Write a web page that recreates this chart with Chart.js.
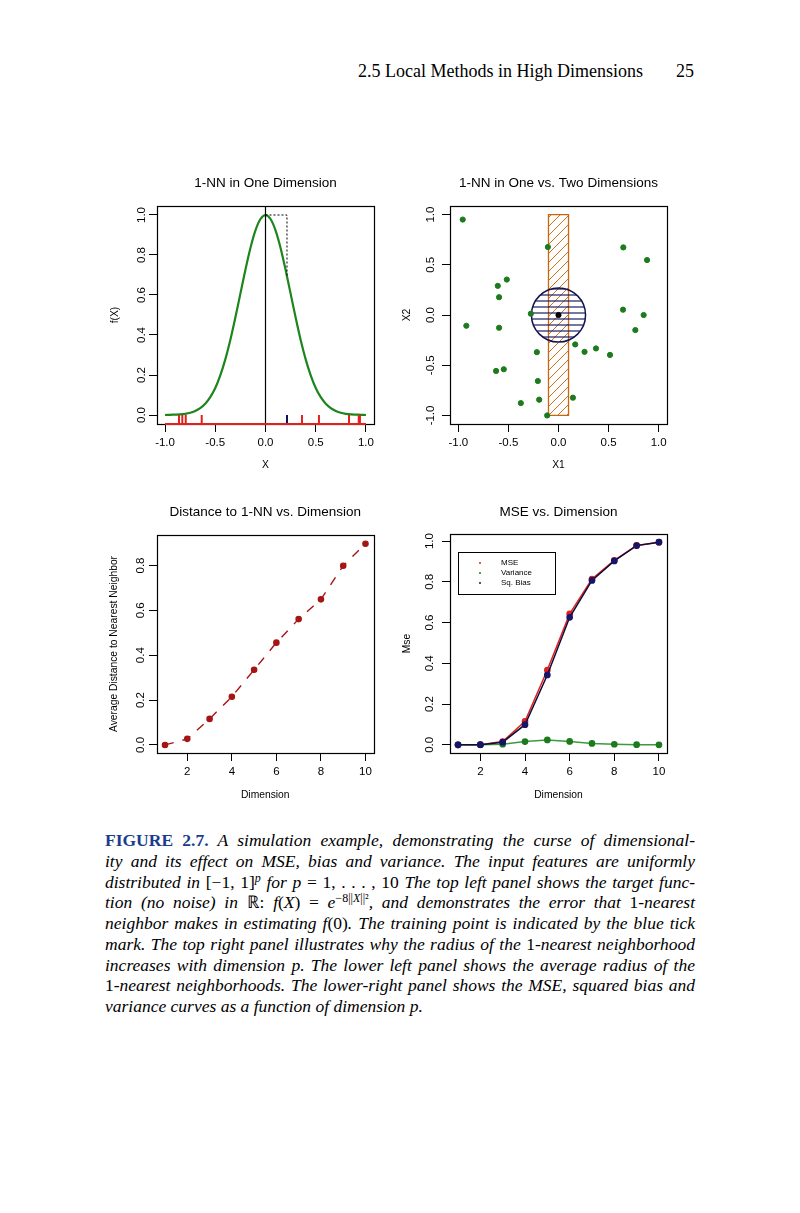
<!DOCTYPE html>
<html>
<head>
<meta charset="utf-8">
<script src="https://cdn.jsdelivr.net/npm/chart.js@4.4.0/dist/chart.umd.min.js"></script>
<style>
  body { margin: 0; background: #fff; }
  #page { position: relative; width: 800px; height: 1213px; overflow: hidden; }
  canvas { position: absolute; }
  .hdr { position: absolute; top: 60px; font-family: "Liberation Serif", serif; font-size: 18px; line-height: 22px; white-space: nowrap; }
  #caption { position: absolute; left: 105px; top: 830px; width: 590px; font-family: "Liberation Serif", serif; font-style: italic; font-size: 17.5px; line-height: 20.75px; }
  #caption div { text-align: justify; text-align-last: justify; }
  #caption div.last { text-align-last: left; }
  .fig { font-style: normal; font-weight: bold; color: #1b3c8c; }
  .rm { font-style: normal; }
  sup { font-size: 12px; line-height: 0; vertical-align: 6px; }
</style>
</head>
<body>
<div id="page">
  <div class="hdr" style="right:157px">2.5 Local Methods in High Dimensions</div>
  <div class="hdr" style="right:106px">25</div>

  <canvas id="oneDim" width="290" height="320" style="left:100px;top:160px"></canvas>
  <canvas id="twoDim" width="290" height="320" style="left:390px;top:160px"></canvas>
  <canvas id="distDim" width="290" height="320" style="left:100px;top:490px"></canvas>
  <canvas id="mseDim" width="290" height="320" style="left:390px;top:490px"></canvas>

  <div id="caption">
    <div><span class="fig">FIGURE 2.7.</span> A simulation example, demonstrating the curse of dimensional-</div>
    <div>ity and its effect on MSE, bias and variance. The input features are uniformly</div>
    <div>distributed in <span class="rm">[−1, 1]</span><sup>p</sup> for p <span class="rm">= 1, . . . , 10</span> The top left panel shows the target func-</div>
    <div>tion (no noise) in <span class="rm">ℝ:</span> f<span class="rm">(</span>X<span class="rm">) =</span> e<sup><span class="rm">−8||</span>X<span class="rm">||²</span></sup>, and demonstrates the error that <span class="rm">1</span>-nearest</div>
    <div>neighbor makes in estimating f<span class="rm">(0)</span>. The training point is indicated by the blue tick</div>
    <div>mark. The top right panel illustrates why the radius of the <span class="rm">1</span>-nearest neighborhood</div>
    <div>increases with dimension p. The lower left panel shows the average radius of the</div>
    <div><span class="rm">1</span>-nearest neighborhoods. The lower-right panel shows the MSE, squared bias and</div>
    <div class="last">variance curves as a function of dimension p.</div>
  </div>
</div>

<script>
// ---------------------------------------------------------------
// data
// ---------------------------------------------------------------

// top left: target function f(X) = exp(-8 X^2)
const curveX = [-1.0, -0.95, -0.9, -0.85, -0.8, -0.75, -0.7, -0.65, -0.6, -0.55, -0.5,
                -0.45, -0.4, -0.35, -0.3, -0.25, -0.2, -0.15, -0.1, -0.05, 0.0,
                0.05, 0.1, 0.15, 0.2, 0.25, 0.3, 0.35, 0.4, 0.45, 0.5,
                0.55, 0.6, 0.65, 0.7, 0.75, 0.8, 0.85, 0.9, 0.95, 1.0];
const curveY = [0.000, 0.001, 0.002, 0.003, 0.006, 0.011, 0.020, 0.034, 0.056, 0.089, 0.135,
                0.198, 0.278, 0.375, 0.487, 0.607, 0.726, 0.835, 0.923, 0.980, 1.000,
                0.980, 0.923, 0.835, 0.726, 0.607, 0.487, 0.375, 0.278, 0.198, 0.135,
                0.089, 0.056, 0.034, 0.020, 0.011, 0.006, 0.003, 0.002, 0.001, 0.000];
const rugX = [-0.861, -0.828, -0.794, -0.635, 0.363, 0.532, 0.831, 0.928, 0.94];
const nnX = 0.214;      // nearest training point (blue tick)
const nnY = 0.693;      // f at that point
const oneDimX = [-1.08, 1.08];
const oneDimY = [-0.045, 1.045];
const oneDimXTicks = [-1, -0.5, 0, 0.5, 1];
const oneDimYTicks = [0, 0.2, 0.4, 0.6, 0.8, 1];

// top right: 1-NN in one vs two dimensions
const ptsX1 = [-0.956, -0.106, 0.647, 0.884, -0.516, -0.606, -0.593, -0.92, -0.593, -0.276,
               0.644, 0.85, 0.767, 0.167, 0.26, 0.374, 0.514, -0.216, -0.623, -0.546,
               -0.206, -0.376, -0.193, 0.144, -0.113];
const ptsX2 = [0.95, 0.677, 0.673, 0.547, 0.353, 0.29, 0.177, -0.107, -0.127, 0.013,
               0.053, 0.0, -0.15, -0.293, -0.367, -0.333, -0.397, -0.37, -0.557, -0.54,
               -0.657, -0.877, -0.843, -0.823, -1.0];
const targetX1 = [0];
const targetX2 = [0];
const nnRadius = 0.27;
const rectX = [-0.1, 0.1];
const rectY = [-1, 1];
const twoDimX = [-1.083, 1.083];
const twoDimY = [-1.085, 1.085];
const twoDimTicks = [-1, -0.5, 0, 0.5, 1];

// bottom: by dimension
const dims = [1, 2, 3, 4, 5, 6, 7, 8, 9, 10];
const avgDist = [0.0, 0.027, 0.116, 0.215, 0.335, 0.456, 0.561, 0.649, 0.799, 0.897];
const mse = [0.0, 0.001, 0.016, 0.115, 0.367, 0.643, 0.814, 0.906, 0.979, 0.995];
const variance = [0.0, 0.0, 0.003, 0.016, 0.024, 0.017, 0.007, 0.003, 0.001, 0.0];
const sqBias = [0.0, 0.001, 0.013, 0.099, 0.343, 0.626, 0.807, 0.903, 0.978, 0.995];
const dimRange = [0.64, 10.36];
const dimTicks = [2, 4, 6, 8, 10];
const distRange = [-0.036, 0.936];
const distTicks = [0, 0.2, 0.4, 0.6, 0.8];
const mseRange = [-0.04, 1.035];
const mseTicks = [0, 0.2, 0.4, 0.6, 0.8, 1];

// ---------------------------------------------------------------
// helpers
// ---------------------------------------------------------------
const family = '"Liberation Sans", Arial, sans-serif';
const black = '#000';

const pts = (xs, ys) => xs.map((x, i) => ({x, y: ys[i]}));
const fmt1 = v => v.toFixed(1);
const fmt0 = v => String(v);

// hatch tiles, turned into patterns on the chart's own context
function tile(w, h, color, lw, draw) {
  const c = document.createElement('canvas');
  c.width = w; c.height = h;
  const g = c.getContext('2d');
  g.strokeStyle = color; g.lineWidth = lw;
  g.beginPath(); draw(g, w, h); g.stroke();
  return c;
}
const diagTile = tile(9, 9, '#d2701c', 1, (g, w, h) => {
  g.moveTo(0, h); g.lineTo(w, 0);
  g.moveTo(-1, 1); g.lineTo(1, -1);
  g.moveTo(w - 1, h + 1); g.lineTo(w + 1, h - 1);
});
const lineTile = tile(4, 6, '#1c1c66', 1.2, (g, w) => { g.moveTo(0, 3); g.lineTo(w, 3); });
const pattern = t => ctx => ctx.chart.ctx.createPattern(t, 'repeat');

// R style frame round the plot region
const boxPlugin = {
  id: 'box',
  beforeDatasetsDraw(chart) {
    const {ctx, chartArea: a} = chart;
    ctx.save();
    ctx.strokeStyle = black;
    ctx.lineWidth = 1.2;
    ctx.strokeRect(Math.round(a.left) + 0.5, Math.round(a.top) + 0.5,
                   Math.round(a.right - a.left), Math.round(a.bottom - a.top));
    ctx.restore();
  }
};

function xAxis(range, ticks, fmt, title, height) {
  return {
    type: 'linear', min: range[0], max: range[1],
    afterBuildTicks: s => { s.ticks = ticks.map(v => ({value: v})); },
    afterFit: s => { s.height = height; },
    grid: {drawOnChartArea: false, tickLength: 8, color: black, lineWidth: 1},
    border: {display: false},
    ticks: {color: black, font: {family, size: 11.5}, padding: 3.7, maxRotation: 0, autoSkip: false, callback: fmt},
    title: {display: true, text: title, color: black, font: {family, size: 10.3, lineHeight: 1.2}, padding: {top: 0, bottom: 9}}
  };
}

function yAxis(range, ticks, fmt, title, width, pad, titlePad) {
  return {
    type: 'linear', min: range[0], max: range[1],
    afterBuildTicks: s => { s.ticks = ticks.map(v => ({value: v})); },
    afterFit: s => { s.width = width; },
    grid: {drawOnChartArea: false, tickLength: 8, color: black, lineWidth: 1},
    border: {display: false},
    ticks: {color: black, font: {family, size: 11.5}, padding: pad, minRotation: 90, maxRotation: 90,
            crossAlign: 'center', autoSkip: false, callback: fmt},
    title: {display: true, text: title, color: black, font: {family, size: 10.3, lineHeight: 1.2}, padding: {top: titlePad, bottom: 0}}
  };
}

function makePanel(id, cfg) {
  return new Chart(document.getElementById(id), {
    type: 'scatter',
    data: {datasets: cfg.datasets},
    options: {
      responsive: false,
      animation: false,
      events: [],
      layout: {padding: {left: 0, top: 0, right: cfg.right, bottom: 0}},
      plugins: {
        legend: {display: false},
        tooltip: {enabled: false},
        title: {
          display: true, text: cfg.title, color: black, fullSize: false,
          font: {family, size: 13.5, weight: 'normal', lineHeight: 1.2},
          padding: {top: cfg.titleAt - 8.1, bottom: cfg.top - cfg.titleAt - 8.1}
        }
      },
      scales: {x: cfg.x, y: cfg.y}
    },
    plugins: [boxPlugin].concat(cfg.plugins || [])
  });
}

// ---------------------------------------------------------------
// 1-NN in One Dimension
// ---------------------------------------------------------------
makePanel('oneDim', {
  title: '1-NN in One Dimension', titleAt: 23, top: 46, right: 16,
  x: xAxis(oneDimX, oneDimXTicks, fmt1, 'X', 56),
  y: yAxis(oneDimY, oneDimYTicks, fmt1, 'f(X)', 57, -0.8, 9),
  datasets: [
    { // rug of training points
      data: rugX.map(x => ({x, y: oneDimY[0] / 2})),
      pointStyle: 'line', pointRotation: 90,
      pointRadius: ctx => {
        const s = ctx.chart.scales.y;
        return (s.getPixelForValue(oneDimY[0]) - s.getPixelForValue(0)) / 2;
      },
      pointBorderColor: '#e3201c', pointBorderWidth: 2, order: 1
    },
    { // nearest neighbour tick
      data: [{x: nnX, y: oneDimY[0] / 2}],
      pointStyle: 'line', pointRotation: 90,
      pointRadius: ctx => {
        const s = ctx.chart.scales.y;
        return (s.getPixelForValue(oneDimY[0]) - s.getPixelForValue(0)) / 2;
      },
      pointBorderColor: '#101060', pointBorderWidth: 2, order: 1
    },
    { // red base of the rug
      data: [{x: curveX[0], y: oneDimY[0]}, {x: curveX[curveX.length - 1], y: oneDimY[0]}],
      showLine: true, borderColor: '#e3201c', borderWidth: 2, pointRadius: 0, clip: false, order: 0
    },
    { // f(X)
      data: pts(curveX, curveY),
      showLine: true, borderColor: '#1c851c', borderWidth: 2.2, pointRadius: 0, tension: 0.3, order: 3
    },
    { // x = 0
      data: [{x: 0, y: oneDimY[0]}, {x: 0, y: oneDimY[1]}],
      showLine: true, borderColor: black, borderWidth: 1.2, pointRadius: 0, order: 2
    },
    { // error of the 1-NN estimate
      data: [{x: 0, y: 1}, {x: nnX, y: 1}, {x: nnX, y: nnY}],
      showLine: true, borderColor: black, borderWidth: 1, borderDash: [2, 2], pointRadius: 0, order: 2
    }
  ]
});

// ---------------------------------------------------------------
// 1-NN in One vs. Two Dimensions
// ---------------------------------------------------------------
makePanel('twoDim', {
  title: '1-NN in One vs. Two Dimensions', titleAt: 23, top: 46, right: 13,
  x: xAxis(twoDimX, twoDimTicks, fmt1, 'X1', 56),
  y: yAxis(twoDimY, twoDimTicks, fmt1, 'X2', 60, 1.2, 11),
  datasets: [
    { // target point
      data: pts(targetX1, targetX2),
      pointRadius: 2.6, pointBackgroundColor: black, pointBorderColor: black, order: 0
    },
    { // training sample
      data: pts(ptsX1, ptsX2),
      pointRadius: 2.6, pointBackgroundColor: '#1d7a1d', pointBorderColor: '#1d7a1d', order: 1
    },
    { // 2-d neighbourhood
      data: pts(targetX1, targetX2),
      pointRadius: ctx => {
        const s = ctx.chart.scales.x;
        return s.getPixelForValue(nnRadius) - s.getPixelForValue(0);
      },
      pointBackgroundColor: pattern(lineTile), pointBorderColor: '#141450', pointBorderWidth: 1.5, order: 2
    },
    { // 1-d neighbourhood, hatched
      data: [{x: rectX[0], y: rectY[1]}, {x: rectX[1], y: rectY[1]}],
      showLine: true, fill: {value: rectY[0]}, backgroundColor: pattern(diagTile),
      borderWidth: 0, pointRadius: 0, order: 4
    },
    { // its outline
      data: [{x: rectX[0], y: rectY[0]}, {x: rectX[0], y: rectY[1]}, {x: rectX[1], y: rectY[1]},
             {x: rectX[1], y: rectY[0]}, {x: rectX[0], y: rectY[0]}],
      showLine: true, borderColor: '#c8650f', borderWidth: 1.3, pointRadius: 0, order: 3
    }
  ]
});

// ---------------------------------------------------------------
// Distance to 1-NN vs. Dimension
// ---------------------------------------------------------------
makePanel('distDim', {
  title: 'Distance to 1-NN vs. Dimension', titleAt: 22.7, top: 45, right: 16.5,
  x: xAxis(dimRange, dimTicks, fmt0, 'Dimension', 57),
  y: yAxis(distRange, distTicks, fmt1, 'Average Distance to Nearest Neighbor', 57, -0.3, 8),
  datasets: [
    {
      data: pts(dims, avgDist),
      showLine: true, borderColor: '#a51515', borderWidth: 1.4, borderDash: [9, 9],
      pointRadius: 2.6, pointBackgroundColor: '#a51515', pointBorderColor: '#a51515'
    }
  ]
});

// ---------------------------------------------------------------
// MSE vs. Dimension
// ---------------------------------------------------------------
const mseLegend = {
  id: 'mseLegend',
  afterDatasetsDraw(chart) {
    const {ctx, chartArea: a} = chart;
    const x0 = Math.round(a.left) + 8.5, y0 = Math.round(a.top) + 18.5;
    ctx.save();
    ctx.fillStyle = '#fff';
    ctx.fillRect(x0, y0, 97, 42);
    ctx.strokeStyle = black;
    ctx.lineWidth = 1;
    ctx.strokeRect(x0, y0, 97, 42);
    ctx.font = '8px ' + family;
    ctx.textBaseline = 'middle';
    chart.data.datasets.forEach((ds, i) => {
      const y = y0 + 10.5 + i * 10;
      ctx.fillStyle = ds.pointBackgroundColor;
      ctx.beginPath();
      ctx.arc(x0 + 21.5, y, 1, 0, 2 * Math.PI);
      ctx.fill();
      ctx.fillStyle = black;
      ctx.fillText(ds.label, x0 + 42.5, y);
    });
    ctx.restore();
  }
};

makePanel('mseDim', {
  title: 'MSE vs. Dimension', titleAt: 22.7, top: 44, right: 13,
  x: xAxis(dimRange, dimTicks, fmt0, 'Dimension', 57),
  y: yAxis(mseRange, mseTicks, fmt1, 'Mse', 60, 4.0, 11),
  plugins: [mseLegend],
  datasets: [
    {
      label: 'MSE', data: pts(dims, mse),
      showLine: true, borderColor: '#e3201c', borderWidth: 1.5,
      pointRadius: 2.6, pointBackgroundColor: '#e3201c', pointBorderColor: '#e3201c', order: 3
    },
    {
      label: 'Variance', data: pts(dims, variance),
      showLine: true, borderColor: '#3c9a3c', borderWidth: 1.5,
      pointRadius: 2.6, pointBackgroundColor: '#1d7a1d', pointBorderColor: '#1d7a1d', order: 2
    },
    {
      label: 'Sq. Bias', data: pts(dims, sqBias),
      showLine: true, borderColor: '#0c0c3c', borderWidth: 1.5,
      pointRadius: 2.6, pointBackgroundColor: '#15156a', pointBorderColor: '#15156a', order: 1
    }
  ]
});
</script>
</body>
</html>
